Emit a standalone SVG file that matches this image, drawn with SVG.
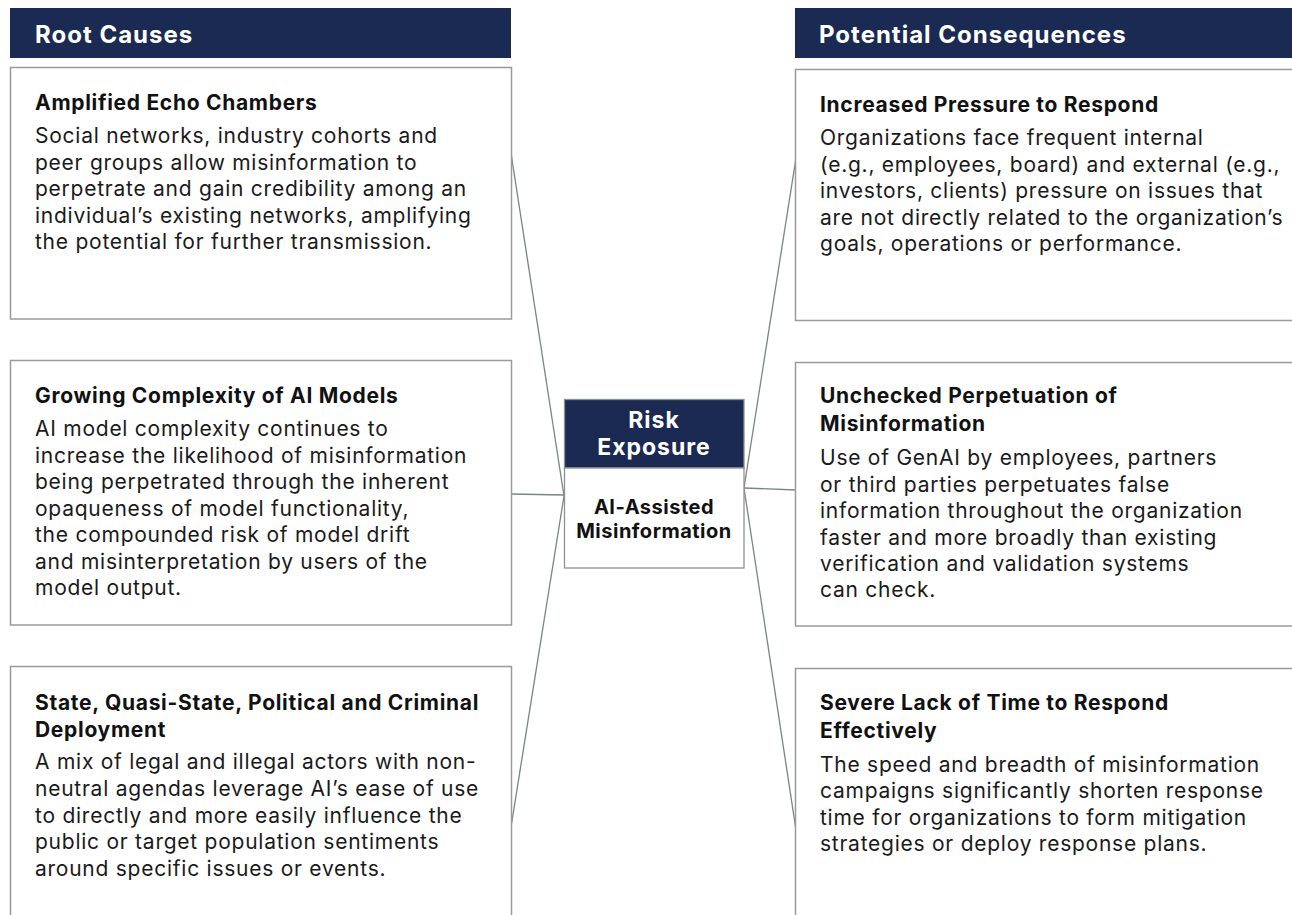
<svg xmlns="http://www.w3.org/2000/svg" width="1292" height="915" viewBox="0 0 1292 915">
<style>
.hdr{fill:#1B2A52}
.box{fill:#fff;stroke:#9A9A9A;stroke-width:1.5}
.ht{font-family:Inter,"Liberation Sans",sans-serif;font-weight:700;font-size:24px;letter-spacing:1px;fill:#fff}
.h{font-family:Inter,"Liberation Sans",sans-serif;font-weight:700;font-size:21px;letter-spacing:0.7px;fill:#111}
.b{font-family:Inter,"Liberation Sans",sans-serif;font-size:21px;letter-spacing:0.75px;fill:#1a1a1a}
.ct{font-family:Inter,"Liberation Sans",sans-serif;font-weight:700;font-size:23px;letter-spacing:1px;fill:#fff;text-anchor:middle}
.cb{font-family:Inter,"Liberation Sans",sans-serif;font-weight:700;font-size:20px;letter-spacing:0.5px;fill:#111;text-anchor:middle}
.cn{stroke:#7A8583;stroke-width:1.3;fill:none}
</style>
<rect width="1292" height="915" fill="#fff"/>
<g id="connectors">
<line class="cn" x1="511" y1="153" x2="564" y2="496"/>
<line class="cn" x1="511" y1="494" x2="564" y2="495"/>
<line class="cn" x1="511" y1="827" x2="564" y2="496"/>
<line class="cn" x1="796" y1="158" x2="744" y2="488"/>
<line class="cn" x1="744" y1="488" x2="796" y2="490"/>
<line class="cn" x1="796" y1="830" x2="744" y2="488"/>
</g>
<g id="root-causes-header">
<rect class="hdr" x="10" y="8" width="501" height="50"/>
<text class="ht" x="35" y="43">Root Causes</text>
</g>
<g id="consequences-header">
<rect class="hdr" x="795" y="8" width="497" height="50"/>
<text class="ht" x="819" y="43">Potential Consequences</text>
</g>
<g id="cause-1">
<rect class="box" x="10.5" y="67.5" width="501" height="251.5"/>
<text class="h" x="35" y="110">Amplified Echo Chambers</text>
<text class="b" x="35" y="143">Social networks, industry cohorts and</text>
<text class="b" x="35" y="170">peer groups allow misinformation to</text>
<text class="b" x="35" y="196">perpetrate and gain credibility among an</text>
<text class="b" x="35" y="223">individual’s existing networks, amplifying</text>
<text class="b" x="35" y="249">the potential for further transmission.</text>
</g>
<g id="cause-2">
<rect class="box" x="10.5" y="360.5" width="501" height="264.5"/>
<text class="h" x="35" y="403">Growing Complexity of AI Models</text>
<text class="b" x="35" y="436">AI model complexity continues to</text>
<text class="b" x="35" y="463">increase the likelihood of misinformation</text>
<text class="b" x="35" y="489">being perpetrated through the inherent</text>
<text class="b" x="35" y="516">opaqueness of model functionality,</text>
<text class="b" x="35" y="542">the compounded risk of model drift</text>
<text class="b" x="35" y="569">and misinterpretation by users of the</text>
<text class="b" x="35" y="595">model output.</text>
</g>
<g id="cause-3">
<rect class="box" x="10.5" y="666.5" width="501" height="270"/>
<text class="h" x="35" y="710">State, Quasi-State, Political and Criminal</text>
<text class="h" x="35" y="737">Deployment</text>
<text class="b" x="35" y="769">A mix of legal and illegal actors with non-</text>
<text class="b" x="35" y="796">neutral agendas leverage AI’s ease of use</text>
<text class="b" x="35" y="823">to directly and more easily influence the</text>
<text class="b" x="35" y="849">public or target population sentiments</text>
<text class="b" x="35" y="876">around specific issues or events.</text>
</g>
<g id="risk-exposure">
<rect x="564.5" y="399.5" width="179.5" height="68.5" fill="#1B2A52" stroke="#8A9290" stroke-width="1.3"/>
<rect x="564.5" y="468" width="179.5" height="100" fill="#fff" stroke="#8A9290" stroke-width="1.3"/>
<text class="ct" x="654" y="428">Risk</text>
<text class="ct" x="654" y="455">Exposure</text>
<text class="cb" x="654" y="514">AI-Assisted</text>
<text class="cb" x="654" y="538">Misinformation</text>
</g>
<g id="consequence-1">
<rect class="box" x="795.5" y="69.5" width="510" height="251"/>
<text class="h" x="820" y="112">Increased Pressure to Respond</text>
<text class="b" x="820" y="145">Organizations face frequent internal</text>
<text class="b" x="820" y="172">(e.g., employees, board) and external (e.g.,</text>
<text class="b" x="820" y="198">investors, clients) pressure on issues that</text>
<text class="b" x="820" y="225">are not directly related to the organization’s</text>
<text class="b" x="820" y="251">goals, operations or performance.</text>
</g>
<g id="consequence-2">
<rect class="box" x="795.5" y="362.5" width="510" height="263.5"/>
<text class="h" x="820" y="403">Unchecked Perpetuation of</text>
<text class="h" x="820" y="431">Misinformation</text>
<text class="b" x="820" y="465">Use of GenAI by employees, partners</text>
<text class="b" x="820" y="492">or third parties perpetuates false</text>
<text class="b" x="820" y="518">information throughout the organization</text>
<text class="b" x="820" y="545">faster and more broadly than existing</text>
<text class="b" x="820" y="571">verification and validation systems</text>
<text class="b" x="820" y="597">can check.</text>
</g>
<g id="consequence-3">
<rect class="box" x="795.5" y="668.5" width="510" height="270"/>
<text class="h" x="820" y="710">Severe Lack of Time to Respond</text>
<text class="h" x="820" y="738">Effectively</text>
<text class="b" x="820" y="772">The speed and breadth of misinformation</text>
<text class="b" x="820" y="798">campaigns significantly shorten response</text>
<text class="b" x="820" y="825">time for organizations to form mitigation</text>
<text class="b" x="820" y="851">strategies or deploy response plans.</text>
</g>
</svg>
